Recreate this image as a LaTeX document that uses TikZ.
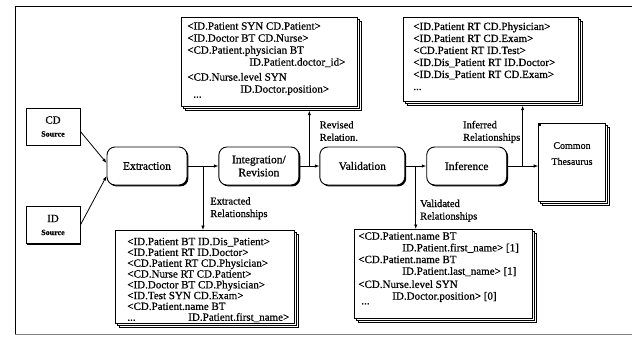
\documentclass[tikz,border=0pt]{standalone}
\usepackage{fontspec}
\setmainfont{Liberation Serif}[FakeBold=0.6]
\usetikzlibrary{positioning,shadows,arrows.meta}

\begin{document}
\begin{tikzpicture}[
		x=1pt, y=-1pt
		,proc/.style={draw, fill=white, rounded corners=8pt, line width=.9pt, minimum width=80pt, minimum height=38pt, align=center, font=\fontsize{11.5}{13}\selectfont, drop shadow={shadow xshift=1.4pt, shadow yshift=-1.4pt, opacity=1, fill=black}}
		,src/.style={draw, fill=white, line width=.8pt, minimum width=54pt, minimum height=37pt, align=center, font=\fontsize{11}{13}\selectfont, drop shadow={shadow xshift=1.4pt, shadow yshift=-1.4pt, opacity=1, fill=black}}
		,listbox/.style={draw, fill=white, line width=.7pt, anchor=north west, general shadow={shadow xshift=4pt, shadow yshift=-4pt, fill=white, draw}, general shadow={shadow xshift=2pt, shadow yshift=-2pt, fill=white, draw}}
		,thesbox/.style={listbox, anchor=center, minimum width=67pt, minimum height=78pt, align=center, font=\fontsize{10}{13}\selectfont}
		,lab/.style={align=left, inner sep=0pt, font=\fontsize{10.5}{12.5}\selectfont}
		,arr/.style={-{Latex[length=4.5pt, width=3.5pt]}, line width=.8pt}
	]
		\useasboundingbox (0,0) rectangle (632,342);
		\draw[line width=.7pt] (632,6) -- (15,6) -- (15,334);
		\draw[gray, line width=.6pt] (15,334) -- (632,334);

		\node[src] (cd) at (53,126.5) {CD\\{\fontsize{8}{9}\selectfont\bfseries Source}};
		\node[src] (id) at (53,225) {ID\\{\fontsize{8}{9}\selectfont\bfseries Source}};

		\node[proc] (ext) at (147,166) {Extraction};
		\node[proc, right=31pt of ext] (integ) {Integration/\\Revision};
		\node[proc, right=20pt of integ, minimum width=85pt] (valid) {Validation};
		\node[proc, right=21pt of valid] (infer) {Inference};
		\node[thesbox, right=31pt of infer, yshift=4pt] (thes) {Common\\[3pt]Thesaurus\\\strut};
		\fill (thes.north west) rectangle ++(3,3);

		\node[listbox, inner xsep=6pt, inner ysep=5pt] (revised) at (181,17) {\parbox[c][79pt][t]{164pt}{\fontsize{11}{12}\selectfont
			<ID.Patient SYN CD.Patient>\\
			<ID.Doctor BT CD.Nurse>\\
			<CD.Patient.physician BT\\
			\hspace*{62pt}ID.Patient.doctor\_id>\\[3pt]
			<CD.Nurse.level SYN\\
			\hspace*{53pt}ID.Doctor.position>\\[-7pt]
			\hspace*{6pt}...}};
		\node[listbox, inner xsep=10pt, inner ysep=5pt] (inferred) at (403,17) {\parbox[c][74pt][t]{155pt}{\fontsize{11}{12}\selectfont
			<ID.Patient RT CD.Physician>\\
			<ID.Patient RT CD.Exam>\\
			<CD.Patient RT ID.Test>\\
			<ID.Dis\_Patient RT ID.Doctor>\\
			<ID.Dis\_Patient RT CD.Exam>\\
			...}};
		\node[listbox, inner xsep=12pt, inner ysep=7.5pt] (extracted) at (115,230) {\parbox[c][78pt][t]{155pt}{\fontsize{11}{10.8}\selectfont
			<ID.Patient BT ID.Dis\_Patient>\\
			<ID.Patient RT ID.Doctor>\\
			<CD.Patient RT CD.Physician>\\
			<CD.Nurse RT CD.Patient>\\
			<ID.Doctor BT CD.Physician>\\
			<ID.Test SYN CD.Exam>\\
			<CD.Patient.name BT\\
			\makebox[61pt][l]{...}ID.Patient.first\_name>}};
		\node[listbox, inner xsep=4pt, inner ysep=3pt] (validated) at (354,229) {\parbox[c][83pt][t]{170pt}{\fontsize{11}{11.7}\selectfont
			<CD.Patient.name BT\\
			\hspace*{44pt}ID.Patient.first\_name> [1]\\
			<CD.Patient.name BT\\
			\hspace*{44pt}ID.Patient.last\_name> [1]\\[1.5pt]
			<CD.Nurse.level SYN\\
			\hspace*{34pt}ID.Doctor.position> [0]\\[-7pt]
			\hspace*{3pt}...}};

		\draw[arr] ([yshift=-5pt]cd.east) -- ([yshift=3pt]ext.west);
		\draw[arr] (id.east) -- ([yshift=-10pt]ext.west);
		\draw[arr] (ext) -- coordinate (j1) (integ);
		\draw[arr] (integ) -- coordinate (j2) (valid);
		\draw[arr] (valid) -- coordinate (j3) (infer);
		\draw[arr] (infer.east) -- coordinate (j4) (infer.east -| thes.west);

		\draw[arr] (j1) -- (j1 |- extracted.north) node[lab, pos=.66, right=7pt] {Extracted\\Relationships};
		\draw[arr, shorten >=4pt] (j2) -- (j2 |- revised.south) node[lab, pos=.59, right=10pt] {Revised\\Relation.};
		\draw[arr] (j3) -- (j3 |- validated.north) node[lab, pos=.71, right=4pt] {Validated\\Relationships};
		\draw[arr, shorten >=4pt] (j4) -- (j4 |- inferred.south) node[lab, pos=.53, left=2pt] {Inferred\\Relationships};
	\end{tikzpicture}
\end{document}
